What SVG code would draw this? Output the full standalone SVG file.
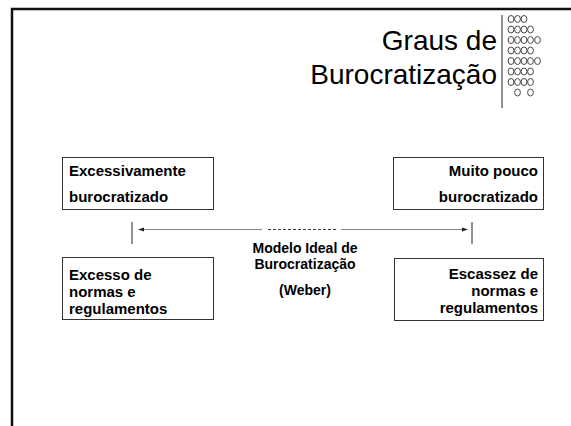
<svg xmlns="http://www.w3.org/2000/svg" width="571" height="426" viewBox="0 0 571 426">
<defs>
<style>
.t{font-family:"Liberation Sans",Arial,sans-serif;font-weight:bold;font-size:15px;fill:#000}
.title{font-family:"Liberation Sans",Arial,sans-serif;font-size:28px;fill:#000;text-anchor:end}
.box{fill:#fff;stroke:#333;stroke-width:1}
.r{text-anchor:end}
.c{text-anchor:middle;font-size:14px}
.dot{fill:none;stroke:#333;stroke-width:0.9}
</style>
<marker id="ah" viewBox="0 0 6 6" refX="5" refY="3" markerWidth="6" markerHeight="6" orient="auto-start-reverse" markerUnits="userSpaceOnUse">
<path d="M0,1 L6,3 L0,5 Z" fill="#222"/>
</marker>
</defs>
<rect width="571" height="426" fill="#fff"/>
<path d="M12,426 V9 H571" fill="none" stroke="#111" stroke-width="2.5"/>
<g id="title">
<text class="title" x="497" y="50">Graus de</text>
<text class="title" x="497" y="84">Burocratização</text>
<line x1="502" y1="15" x2="502" y2="108" stroke="#222" stroke-width="1"/>
<g class="dot">
<ellipse cx="511" cy="19" rx="2.9" ry="3.5"/><ellipse cx="517.5" cy="19" rx="2.9" ry="3.5"/><ellipse cx="524" cy="19" rx="2.9" ry="3.5"/>
<ellipse cx="511" cy="29.5" rx="2.9" ry="3.5"/><ellipse cx="517.5" cy="29.5" rx="2.9" ry="3.5"/><ellipse cx="524" cy="29.5" rx="2.9" ry="3.5"/><ellipse cx="530.5" cy="29.5" rx="2.9" ry="3.5"/>
<ellipse cx="511" cy="40" rx="2.9" ry="3.5"/><ellipse cx="517.5" cy="40" rx="2.9" ry="3.5"/><ellipse cx="524" cy="40" rx="2.9" ry="3.5"/><ellipse cx="530.5" cy="40" rx="2.9" ry="3.5"/><ellipse cx="537.5" cy="40" rx="2.9" ry="3.5"/>
<ellipse cx="511" cy="50.5" rx="2.9" ry="3.5"/><ellipse cx="517.5" cy="50.5" rx="2.9" ry="3.5"/><ellipse cx="524" cy="50.5" rx="2.9" ry="3.5"/><ellipse cx="530.5" cy="50.5" rx="2.9" ry="3.5"/>
<ellipse cx="511" cy="61" rx="2.9" ry="3.5"/><ellipse cx="517.5" cy="61" rx="2.9" ry="3.5"/><ellipse cx="524" cy="61" rx="2.9" ry="3.5"/><ellipse cx="530.5" cy="61" rx="2.9" ry="3.5"/><ellipse cx="537.5" cy="61" rx="2.9" ry="3.5"/>
<ellipse cx="511" cy="71.5" rx="2.9" ry="3.5"/><ellipse cx="517.5" cy="71.5" rx="2.9" ry="3.5"/><ellipse cx="524" cy="71.5" rx="2.9" ry="3.5"/><ellipse cx="530.5" cy="71.5" rx="2.9" ry="3.5"/>
<ellipse cx="511" cy="82" rx="2.9" ry="3.5"/><ellipse cx="517.5" cy="82" rx="2.9" ry="3.5"/><ellipse cx="524" cy="82" rx="2.9" ry="3.5"/><ellipse cx="530.5" cy="82" rx="2.9" ry="3.5"/>
<ellipse cx="517.5" cy="92.5" rx="2.9" ry="3.5"/><ellipse cx="530.5" cy="92.5" rx="2.9" ry="3.5"/>
</g>
</g>
<g id="n1">
<rect class="box" x="62.5" y="157.5" width="151" height="52"/>
<text class="t" x="69" y="176">Excessivamente</text>
<text class="t" x="69" y="202">burocratizado</text>
</g>
<g id="n2">
<rect class="box" x="393.5" y="157.5" width="150" height="52"/>
<text class="t r" x="538" y="176">Muito pouco</text>
<text class="t r" x="538" y="202">burocratizado</text>
</g>
<g id="n3">
<rect class="box" x="62.5" y="257.5" width="151" height="62"/>
<text class="t" x="69" y="280">Excesso de</text>
<text class="t" x="69" y="297">normas e</text>
<text class="t" x="69" y="314">regulamentos</text>
</g>
<g id="n4">
<rect class="box" x="394.5" y="258.5" width="149" height="62"/>
<text class="t r" x="538" y="279">Escassez de</text>
<text class="t r" x="538" y="296">normas e</text>
<text class="t r" x="538" y="313">regulamentos</text>
</g>
<g id="center">
<text class="t c" x="305" y="253">Modelo Ideal de</text>
<text class="t c" x="305" y="269">Burocratização</text>
<text class="t c" x="305" y="295">(Weber)</text>
</g>
<g id="connectors">
<line x1="132" y1="222" x2="132" y2="244" stroke="#222" stroke-width="1"/>
<line x1="472" y1="222" x2="472" y2="244" stroke="#222" stroke-width="1"/>
<line x1="139" y1="229.5" x2="262" y2="229.5" stroke="#666" stroke-width="0.8" marker-start="url(#ah)"/>
<line x1="341" y1="229.5" x2="467" y2="229.5" stroke="#666" stroke-width="0.8" marker-end="url(#ah)"/>
<line x1="268" y1="229.5" x2="336" y2="229.5" stroke="#222" stroke-width="0.9" stroke-dasharray="3,2"/>
</g>
</svg>
